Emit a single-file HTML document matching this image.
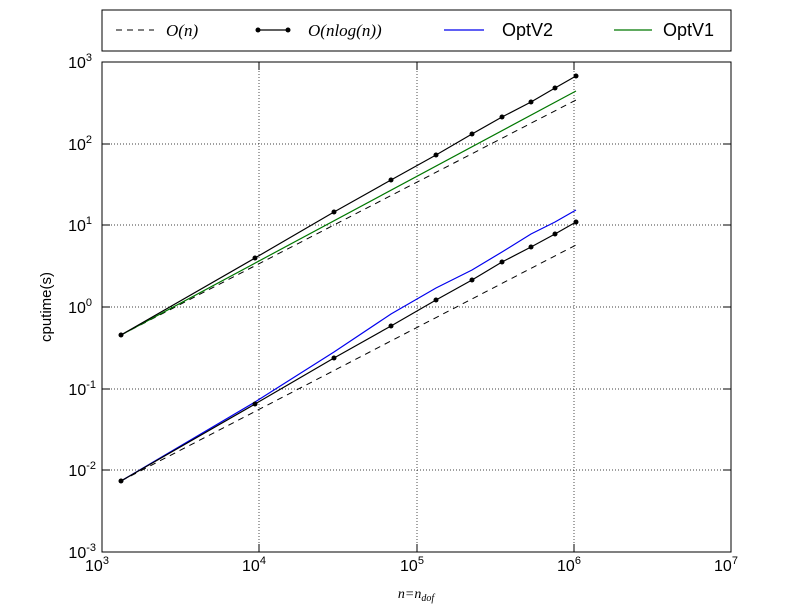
<!DOCTYPE html>
<html><head><meta charset="utf-8"><style>
body{margin:0;background:#fff;}
svg{display:block;font-family:"Liberation Sans",sans-serif;}
</style></head><body>
<svg width="812" height="612" viewBox="0 0 812 612" xmlns="http://www.w3.org/2000/svg">
<rect width="812" height="612" fill="#fff"/>
<g stroke="#000" stroke-width="0.7" stroke-dasharray="1,2" opacity="1">
<line x1="259" y1="62" x2="259" y2="552"/><line x1="417" y1="62" x2="417" y2="552"/><line x1="574" y1="62" x2="574" y2="552"/>
<line x1="102" y1="144" x2="731" y2="144"/><line x1="102" y1="225" x2="731" y2="225"/><line x1="102" y1="307" x2="731" y2="307"/>
<line x1="102" y1="389" x2="731" y2="389"/><line x1="102" y1="470" x2="731" y2="470"/>
</g>
<polyline fill="none" stroke="#000" stroke-width="1" stroke-dasharray="6,5" points="121,335 576,100"/>
<polyline fill="none" stroke="#000" stroke-width="1" stroke-dasharray="6,5" points="121,481 576,245"/>
<polyline fill="none" stroke="#007700" stroke-width="1.2" points="121,335 576,91"/>
<polyline fill="none" stroke="#0000ee" stroke-width="1.2" points="121,481 255,402 334,352 391,314 436,288 472,270 502,252 531,234 555,222 576,210"/>
<g fill="#000">
<polyline fill="none" stroke="#000" stroke-width="1.2" points="121,335 255,258 334,212 391,180 436,155 472,134 502,117 531,102 555,88 576,76"/>
<polyline fill="none" stroke="#000" stroke-width="1.2" points="121,481 255,404 334,358 391,326 436,300 472,280 502,262 531,247 555,234 576,222"/>
<circle cx="121" cy="335" r="2.5"/><circle cx="255" cy="258" r="2.5"/><circle cx="334" cy="212" r="2.5"/><circle cx="391" cy="180" r="2.5"/><circle cx="436" cy="155" r="2.5"/><circle cx="472" cy="134" r="2.5"/><circle cx="502" cy="117" r="2.5"/><circle cx="531" cy="102" r="2.5"/><circle cx="555" cy="88" r="2.5"/><circle cx="576" cy="76" r="2.5"/>
<circle cx="121" cy="481" r="2.5"/><circle cx="255" cy="404" r="2.5"/><circle cx="334" cy="358" r="2.5"/><circle cx="391" cy="326" r="2.5"/><circle cx="436" cy="300" r="2.5"/><circle cx="472" cy="280" r="2.5"/><circle cx="502" cy="262" r="2.5"/><circle cx="531" cy="247" r="2.5"/><circle cx="555" cy="234" r="2.5"/><circle cx="576" cy="222" r="2.5"/>
</g>
<rect x="102" y="62" width="629" height="490" fill="none" stroke="#000" stroke-width="1"/>
<g stroke="#000" stroke-width="1">
<line x1="259" y1="552" x2="259" y2="544"/><line x1="417" y1="552" x2="417" y2="544"/><line x1="574" y1="552" x2="574" y2="544"/>
<line x1="259" y1="62" x2="259" y2="70"/><line x1="417" y1="62" x2="417" y2="70"/><line x1="574" y1="62" x2="574" y2="70"/>
<line x1="102" y1="144" x2="110" y2="144"/><line x1="102" y1="225" x2="110" y2="225"/><line x1="102" y1="307" x2="110" y2="307"/><line x1="102" y1="389" x2="110" y2="389"/><line x1="102" y1="470" x2="110" y2="470"/>
<line x1="731" y1="144" x2="723" y2="144"/><line x1="731" y1="225" x2="723" y2="225"/><line x1="731" y1="307" x2="723" y2="307"/><line x1="731" y1="389" x2="723" y2="389"/><line x1="731" y1="470" x2="723" y2="470"/>
</g>
<g font-size="16" fill="#000" text-anchor="middle">
<text x="97" y="571">10<tspan font-size="11" dy="-7">3</tspan></text>
<text x="254" y="571">10<tspan font-size="11" dy="-7">4</tspan></text>
<text x="412" y="571">10<tspan font-size="11" dy="-7">5</tspan></text>
<text x="569" y="571">10<tspan font-size="11" dy="-7">6</tspan></text>
<text x="726" y="571">10<tspan font-size="11" dy="-7">7</tspan></text>
</g>
<g font-size="16" fill="#000" text-anchor="end">
<text x="92" y="68">10<tspan font-size="11" dy="-7">3</tspan></text>
<text x="92" y="150">10<tspan font-size="11" dy="-7">2</tspan></text>
<text x="92" y="231">10<tspan font-size="11" dy="-7">1</tspan></text>
<text x="92" y="313">10<tspan font-size="11" dy="-7">0</tspan></text>
<text x="96" y="395">10<tspan font-size="11" dy="-7">-1</tspan></text>
<text x="96" y="476">10<tspan font-size="11" dy="-7">-2</tspan></text>
<text x="96" y="558">10<tspan font-size="11" dy="-7">-3</tspan></text>
</g>
<text x="416" y="598" font-size="14" text-anchor="middle" font-family="Liberation Serif,serif" font-style="italic">n=n<tspan font-size="10" dy="3">dof</tspan></text>
<text transform="translate(51,307) rotate(-90)" font-size="15" text-anchor="middle">cputime(s)</text>
<rect x="102" y="10" width="629" height="41" fill="#fff" stroke="#000" stroke-width="1"/>
<line x1="116" y1="30" x2="154" y2="30" stroke="#000" stroke-dasharray="6,5"/>
<text x="166" y="36" font-size="17" font-family="Liberation Serif,serif" font-style="italic">O(n)</text>
<line x1="258" y1="30" x2="288" y2="30" stroke="#000" stroke-width="1.2"/>
<g fill="#000"><circle cx="258" cy="30" r="2.5"/><circle cx="288" cy="30" r="2.5"/></g>
<text x="308" y="36" font-size="17" font-family="Liberation Serif,serif" font-style="italic">O(nlog(n))</text>
<line x1="444" y1="30" x2="484" y2="30" stroke="#0000ee" stroke-width="1.2"/>
<text x="502" y="36" font-size="18">OptV2</text>
<line x1="614" y1="30" x2="652" y2="30" stroke="#007700" stroke-width="1.2"/>
<text x="663" y="36" font-size="18">OptV1</text>
</svg>
</body></html>
